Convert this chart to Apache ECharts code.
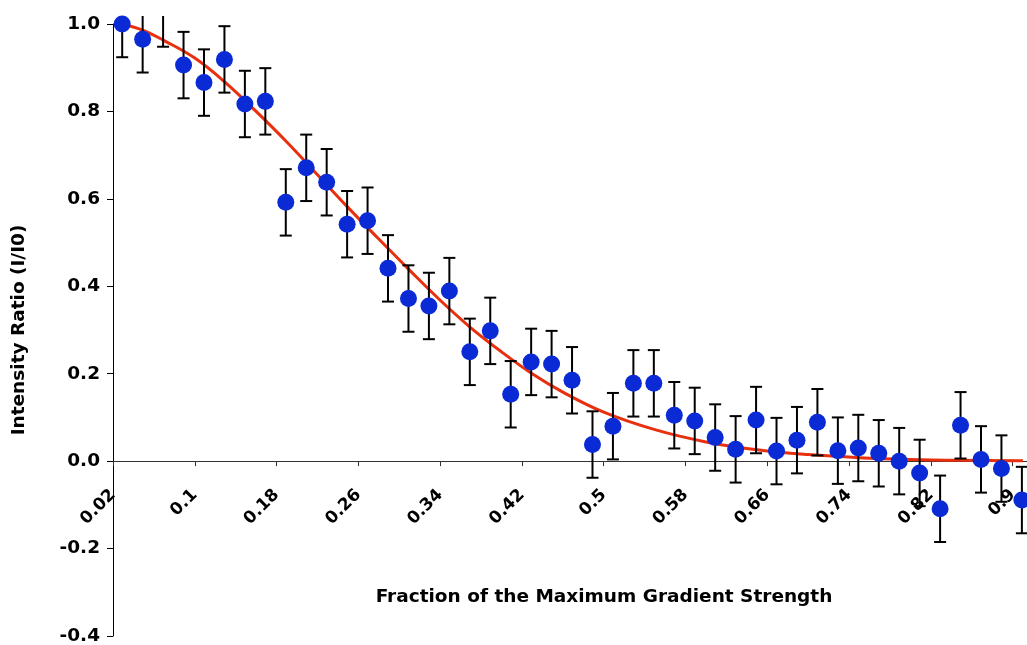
<!DOCTYPE html>
<html>
<head>
<meta charset="utf-8">
<script src="https://cdn.jsdelivr.net/npm/echarts@6/dist/echarts.min.js"></script>
<style>
html,body{margin:0;padding:0;background:#fff;}
#chart{width:1027px;height:645px;}
</style>
</head>
<body>
<div id="chart"></div>
<script>
// Measured fractions of the maximum gradient strength
const xValues = [0.029, 0.049, 0.069, 0.089, 0.109, 0.129, 0.149, 0.169, 0.189, 0.209,
  0.229, 0.249, 0.269, 0.289, 0.309, 0.329, 0.349, 0.369, 0.389, 0.409,
  0.429, 0.449, 0.469, 0.489, 0.509, 0.529, 0.549, 0.569, 0.589, 0.609,
  0.629, 0.649, 0.669, 0.689, 0.709, 0.729, 0.749, 0.769, 0.789, 0.809,
  0.829, 0.849, 0.869, 0.889, 0.909];
// Intensity ratio I/I0
const intensity = [1.000, 0.965, 1.024, 0.906, 0.866, 0.919, 0.817, 0.823, 0.592, 0.671,
  0.638, 0.542, 0.550, 0.441, 0.372, 0.355, 0.389, 0.250, 0.298, 0.153,
  0.227, 0.222, 0.185, 0.038, 0.080, 0.178, 0.178, 0.105, 0.092, 0.054,
  0.027, 0.094, 0.023, 0.048, 0.089, 0.024, 0.030, 0.018, 0.000, -0.027,
  -0.109, 0.082, 0.004, -0.017, -0.089];
// Error bar half-length (same for every point)
const errorValues = [0.076, 0.076, 0.076, 0.076, 0.076, 0.076, 0.076, 0.076, 0.076, 0.076,
  0.076, 0.076, 0.076, 0.076, 0.076, 0.076, 0.076, 0.076, 0.076, 0.076,
  0.076, 0.076, 0.076, 0.076, 0.076, 0.076, 0.076, 0.076, 0.076, 0.076,
  0.076, 0.076, 0.076, 0.076, 0.076, 0.076, 0.076, 0.076, 0.076, 0.076,
  0.076, 0.076, 0.076, 0.076, 0.076];
// Fitted curve
const fitX = [0.029, 0.05, 0.07, 0.10, 0.13, 0.16, 0.19, 0.22, 0.25, 0.28, 0.31, 0.34, 0.37,
  0.40, 0.43, 0.46, 0.50, 0.55, 0.60, 0.65, 0.70, 0.75, 0.80, 0.85, 0.91];
const fitY = [1.000, 0.985, 0.962, 0.922, 0.866, 0.800, 0.730, 0.655, 0.580, 0.508, 0.437, 0.368, 0.305,
  0.250, 0.200, 0.158, 0.112, 0.072, 0.044, 0.026, 0.015, 0.008, 0.004, 0.002, 0.001];

const xMin = 0.02, xMax = 0.914, xStep = 0.08;
const yMin = -0.4, yMax = 1.0, yStep = 0.2;

const font = '"DejaVu Sans", Verdana, sans-serif';

const errData = xValues.map((x, i) => [x, intensity[i], errorValues[i]]);
const pointData = xValues.map((x, i) => [x, intensity[i] > yMax ? null : intensity[i]]);
const fitData = fitX.map((x, i) => [x, fitY[i]]);

const gridTop = 24, gridBottom = 9, chartH = 645;
const plotH = chartH - gridTop - gridBottom;
// move the x axis up so it sits on y = 0
const zeroOffset = -plotH * (0 - yMin) / (yMax - yMin);

const chart = echarts.init(document.getElementById('chart'), null, {renderer: 'canvas'});
chart.setOption({
  animation: false,
  backgroundColor: '#ffffff',
  grid: {left: 113, right: 0, top: gridTop, bottom: gridBottom, containLabel: false, outerBoundsMode: 'none'},
  xAxis: {
    type: 'value',
    position: 'bottom',
    offset: zeroOffset,
    min: xMin, max: xMax, interval: xStep,
    name: 'Fraction of the Maximum Gradient Strength',
    nameLocation: 'middle',
    nameGap: 127,
    nameTextStyle: {fontFamily: font, fontWeight: 'bold', fontSize: 18.5, color: '#000', padding: [0, 0, 0, 68]},
    axisLine: {onZero: false, lineStyle: {color: '#333', width: 1}},
    axisTick: {show: true, inside: false, length: 5, lineStyle: {color: '#333'}},
    splitLine: {show: false},
    axisLabel: {
      rotate: 45, margin: 31, showMaxLabel: false, hideOverlap: false,
      fontFamily: font, fontWeight: 'bold', fontSize: 17, color: '#000',
      formatter: v => String(parseFloat(v.toFixed(2)))
    }
  },
  yAxis: {
    type: 'value',
    min: yMin, max: yMax, interval: yStep,
    name: 'Intensity Ratio (I/I0)',
    nameLocation: 'middle',
    nameGap: 84,
    nameTextStyle: {fontFamily: font, fontWeight: 'bold', fontSize: 18.5, color: '#000'},
    axisLine: {show: true, onZero: false, lineStyle: {color: '#000', width: 1}},
    axisTick: {show: true, inside: false, length: 6, lineStyle: {color: '#000'}},
    splitLine: {show: false},
    axisLabel: {
      margin: 13, fontFamily: font, fontWeight: 'bold', fontSize: 18.5, color: '#000',
      formatter: v => v.toFixed(1)
    }
  },
  series: [
    {
      type: 'line',
      data: fitData,
      smooth: 0.4,
      symbol: 'none',
      clip: false,
      lineStyle: {color: '#E8300E', width: 3},
      z: 2
    },
    {
      type: 'custom',
      data: errData,
      clip: false,
      z: 3,
      renderItem: function (params, api) {
        const x = api.value(0), y = api.value(1), e = api.value(2);
        const top = api.coord([x, y + e]);
        const bot = api.coord([x, y - e]);
        const limitTop = params.coordSys.y - 8;
        const half = 6;
        const style = {stroke: '#000', lineWidth: 2};
        const children = [];
        const t = Math.max(top[1], limitTop);
        children.push({type: 'line', shape: {x1: top[0], y1: t, x2: bot[0], y2: bot[1]}, style: style});
        if (top[1] >= limitTop) {
          children.push({type: 'line', shape: {x1: top[0] - half, y1: top[1], x2: top[0] + half, y2: top[1]}, style: style});
        }
        children.push({type: 'line', shape: {x1: bot[0] - half, y1: bot[1], x2: bot[0] + half, y2: bot[1]}, style: style});
        return {type: 'group', children: children};
      }
    },
    {
      type: 'scatter',
      data: pointData,
      symbol: 'circle',
      symbolSize: 17,
      clip: false,
      itemStyle: {color: '#0A2AD6', opacity: 1},
      z: 4
    }
  ]
});
</script>
</body>
</html>
